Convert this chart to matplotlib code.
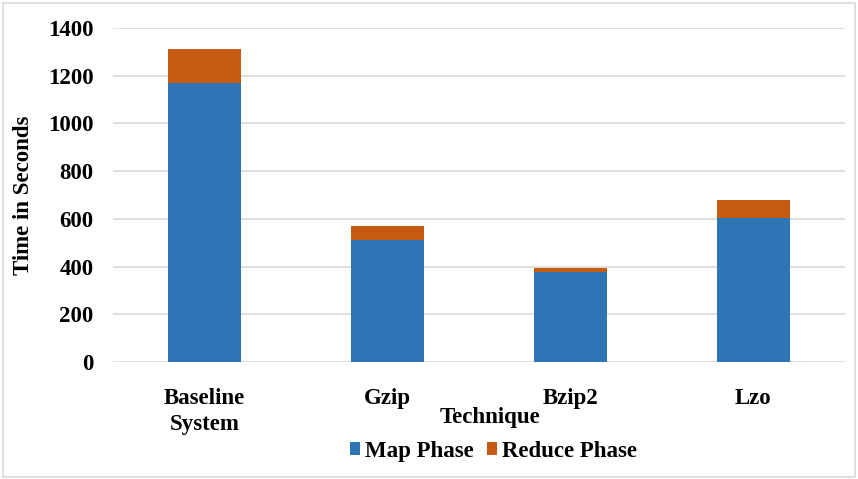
import numpy as np
import matplotlib.pyplot as plt

techniques = ['Baseline\nSystem', 'Gzip', 'Bzip2', 'Lzo']
map_phase = [1170, 512, 378, 604]
reduce_phase = [142, 58, 18, 76]

plt.rcParams['font.family'] = ['Liberation Serif', 'DejaVu Serif']
plt.rcParams['font.weight'] = 'bold'

fig = plt.figure(figsize=(8.58, 4.79), dpi=100)
ax = fig.add_axes([0.1317, 0.2443, 0.853, 0.6972])

x = np.arange(len(techniques))
ax.bar(x, map_phase, width=0.4, color='#2E75B6', label='Map Phase', zorder=3)
ax.bar(x, reduce_phase, width=0.4, bottom=map_phase, color='#C55A11',
       label='Reduce Phase', zorder=3)

ax.set_xlim(-0.5, len(techniques) - 0.5)
ax.set_ylim(0, 1400)
ax.set_yticks(np.arange(0, 1401, 200))
ax.yaxis.grid(True, color='#D9D9D9', linewidth=1.2, zorder=0)
ax.tick_params(axis='both', length=0, labelsize=16.5)
ax.tick_params(axis='x', pad=19)
ax.tick_params(axis='y', pad=14)
ax.set_xticks(x)
ax.set_xticklabels(techniques, fontweight='bold', linespacing=1.3)
for s in ax.spines.values():
    s.set_visible(False)

ax.set_ylabel('Time in Seconds', fontsize=16.5, fontweight='bold')
ax.yaxis.set_label_coords(-0.108, 0.5)
ax.set_xlabel('Technique', fontsize=16.5, fontweight='bold')
ax.xaxis.set_label_coords(0.515, -0.135)

fig.legend(loc='center', bbox_to_anchor=(0.575, 0.058), ncol=2, frameon=False,
           fontsize=16.5, handlelength=0.45, handleheight=0.45, handletextpad=0.2,
           columnspacing=0.6)

# light frame around the figure
fig.patches.append(plt.Rectangle((0.003, 0.004), 0.994, 0.99, transform=fig.transFigure,
                                 fill=False, edgecolor='#D9D9D9', linewidth=1.2))

fig.savefig('out.png', dpi=100)
